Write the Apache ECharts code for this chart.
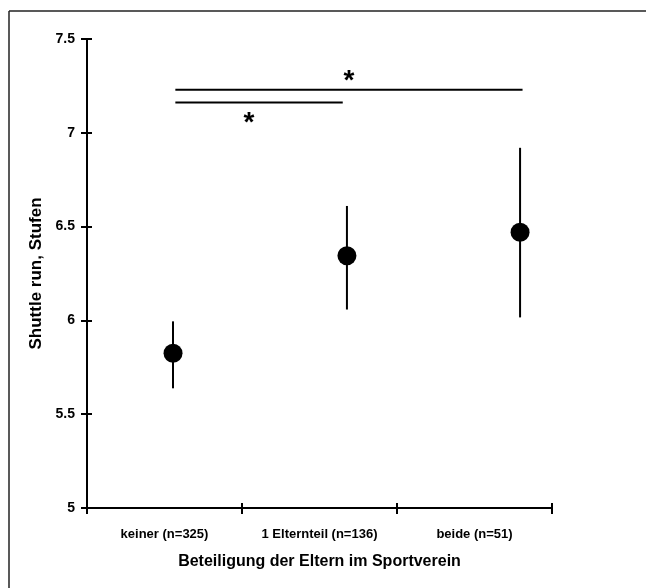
<!DOCTYPE html>
<html>
<head>
<meta charset="utf-8">
<script src="https://cdn.jsdelivr.net/npm/echarts@6/dist/echarts.min.js"></script>
<style>
  html, body { margin: 0; padding: 0; background: #fff; }
  #chart { width: 646px; height: 588px; }
</style>
</head>
<body>
<div id="chart"></div>
<script>
// Kategorien und Werte
const categories = ['keiner (n=325)', '1 Elternteil (n=136)', 'beide (n=51)'];
const pointX = [0.555, 1.677, 2.794];        // Lage der Punkte auf der verdeckten Wertachse
const means = [5.825, 6.345, 6.47];
const lower = [5.638, 6.058, 6.016];
const upper = [5.995, 6.61, 6.92];

// Signifikanzlinien: [x von, x bis, y]
const sigLines = [[0.57, 2.81, 7.229], [0.57, 1.65, 7.161]];
// Sternchen: [x, y]
const sigStars = [[1.69, 7.272], [1.045, 7.05]];

const chart = echarts.init(document.getElementById('chart'));
const FONT = 'Liberation Sans, Arial, sans-serif';

const option = {
    backgroundColor: '#fff',
    animation: false,
    grid: { left: 87, top: 39, width: 465, height: 469 },
    xAxis: [
        {
            type: 'category',
            data: categories,
            position: 'bottom',
            boundaryGap: true,
            axisLine: { lineStyle: { color: '#000', width: 2 } },
            axisTick: { show: true, alignWithLabel: false, length: 6, lineStyle: { color: '#000', width: 2 } },
            axisLabel: { color: '#000', fontFamily: FONT, fontWeight: 'bold', fontSize: 13, margin: 20 },
            name: 'Beteiligung der Eltern im Sportverein',
            nameLocation: 'middle',
            nameGap: 46,
            nameTextStyle: { color: '#000', fontFamily: FONT, fontWeight: 'bold', fontSize: 16 }
        },
        {
            type: 'category',
            data: categories,
            position: 'bottom',
            boundaryGap: true,
            axisLine: { show: false },
            axisTick: { show: true, inside: true, length: 5, lineStyle: { color: '#000', width: 2 } },
            axisLabel: { show: false }
        },
        { type: 'value', min: 0, max: 3, show: false }
    ],
    yAxis: [
        {
            type: 'value',
            min: 5, max: 7.5, interval: 0.5,
            splitLine: { show: false },
            axisLine: { show: true, lineStyle: { color: '#000', width: 2 } },
            axisTick: { show: true, length: 6, lineStyle: { color: '#000', width: 2 } },
            axisLabel: { color: '#000', fontFamily: FONT, fontWeight: 'bold', fontSize: 14, margin: 12 },
            name: 'Shuttle run, Stufen',
            nameLocation: 'middle',
            nameGap: 42,
            nameTextStyle: { color: '#000', fontFamily: FONT, fontWeight: 'bold', fontSize: 17 }
        },
        {
            // zweite Achse nur fuer die nach innen zeigenden Striche
            type: 'value',
            min: 5, max: 7.5, interval: 0.5,
            position: 'right',
            offset: -465,
            splitLine: { show: false },
            axisLine: { show: false },
            axisTick: { show: true, length: 5, lineStyle: { color: '#000', width: 2 } },
            axisLabel: { show: false }
        }
    ],
    series: [
        {
            // Fehlerbalken
            type: 'custom',
            xAxisIndex: 2,
            yAxisIndex: 0,
            data: pointX.map((x, i) => [x, lower[i], upper[i]]),
            renderItem: (params, api) => {
                const a = api.coord([api.value(0), api.value(1)]);
                const b = api.coord([api.value(0), api.value(2)]);
                return {
                    type: 'line',
                    shape: { x1: a[0], y1: a[1], x2: b[0], y2: b[1] },
                    style: { stroke: '#000', lineWidth: 2 }
                };
            },
            z: 2
        },
        {
            type: 'scatter',
            xAxisIndex: 2,
            yAxisIndex: 0,
            data: pointX.map((x, i) => [x, means[i]]),
            symbol: 'circle',
            symbolSize: 19,
            itemStyle: { color: '#000', opacity: 1 },
            z: 3
        },
        {
            // Signifikanzlinien
            type: 'custom',
            xAxisIndex: 2,
            yAxisIndex: 0,
            data: sigLines,
            renderItem: (params, api) => {
                const a = api.coord([api.value(0), api.value(2)]);
                const b = api.coord([api.value(1), api.value(2)]);
                return {
                    type: 'line',
                    shape: { x1: a[0], y1: a[1], x2: b[0], y2: b[1] },
                    style: { stroke: '#000', lineWidth: 2 }
                };
            }
        },
        {
            type: 'scatter',
            xAxisIndex: 2,
            yAxisIndex: 0,
            data: sigStars,
            symbolSize: 0,
            itemStyle: { opacity: 1 },
            label: {
                show: true,
                position: 'inside',
                formatter: '*',
                color: '#000',
                fontFamily: FONT,
                fontWeight: 'bold',
                fontSize: 28
            }
        }
    ],
    graphic: [
        { type: 'line', shape: { x1: 9, y1: 11, x2: 646, y2: 11 }, style: { stroke: '#222', lineWidth: 1.5 } },
        { type: 'line', shape: { x1: 9, y1: 11, x2: 9, y2: 588 }, style: { stroke: '#222', lineWidth: 1.5 } }
    ]
};

chart.setOption(option);
</script>
</body>
</html>
